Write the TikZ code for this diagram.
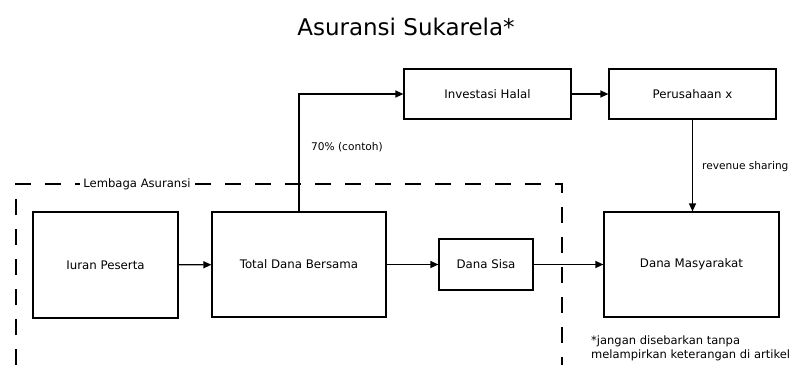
\documentclass[tikz,border=0pt]{standalone}
\usepackage{fontspec}
\setmainfont{DejaVu Sans}
\usetikzlibrary{arrows.meta}
\begin{document}
\begin{tikzpicture}[x=1pt,y=-1pt,
  box/.style={draw,line width=1.2pt,align=center,inner sep=0pt,font=\fontsize{11.8}{14}\selectfont},
  flow/.style={line width=1.2pt,-{Triangle[length=8pt,width=7pt]}},
  note/.style={font=\fontsize{10.6}{12}\selectfont,inner sep=0pt},
  zone/.style={line width=1.3pt,dash pattern=on 16pt off 14pt}]
\useasboundingbox[fill=white] (0,0) rectangle (793,365);

% title
\node[font=\fontsize{23}{26}\selectfont] (title) at (406,27) {Asuransi Sukarela*};

% boxes
\node[box,minimum width=145pt,minimum height=106pt] (iuran) at (105.5,265) {Iuran Peserta};
\node[box,minimum width=174pt,minimum height=105pt] (total) at (299,264.5) {Total Dana Bersama};
\node[box,minimum width=94pt,minimum height=51pt] (sisa) at (486,264.5) {Dana Sisa};
\node[box,minimum width=175pt,minimum height=105pt] (masy) at (691.5,264.5) {Dana Masyarakat};
\node[box,minimum width=167pt,minimum height=50pt] (inv) at (487.5,94) {Investasi Halal};
\node[box,minimum width=167pt,minimum height=50pt] (per) at (692.5,94) {Perusahaan x};

% institution boundary
\coordinate (zbl) at (16,365);
\coordinate (ztl) at (16,184);
\coordinate (ztr) at (562,184);
\coordinate (zbr) at (562,365);
\draw[zone] (zbl) -- (ztl) -- (ztr) -- (zbr);
\node[fill=white,inner xsep=3pt,inner ysep=1pt,font=\fontsize{11.6}{13}\selectfont] (lembaga) at (137,184) {Lembaga Asuransi};

% flows
\draw[flow] (iuran) -- (total);
\draw[flow] (total) -- (sisa);
\draw[flow] (sisa) -- (masy);
\draw[flow] (total.north) |- (inv.west);
\draw[flow] (inv) -- (per);
\draw[flow] (per.south) -- (per.south |- masy.north);

% labels
\node[note,anchor=west] (pct) at (311,147) {70\% (contoh)};
\node[note,anchor=west] (rev) at (702,167) {revenue sharing};
\node[note,anchor=north west,align=left,font=\fontsize{11.5}{14}\selectfont] (foot) at (591,336) {*jangan disebarkan tanpa\\melampirkan keterangan di artikel};
\end{tikzpicture}
\end{document}
